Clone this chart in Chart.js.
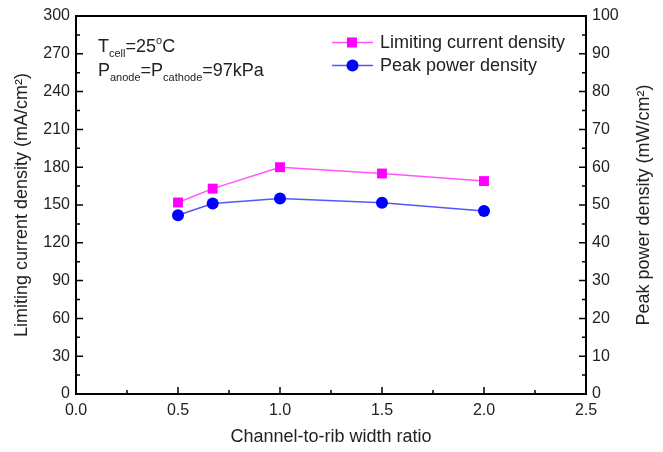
<!DOCTYPE html>
<html>
<head>
<meta charset="utf-8">
<script src="https://cdn.jsdelivr.net/npm/chart.js@4.4.1/dist/chart.umd.min.js"></script>
<style>
  html, body { margin: 0; padding: 0; background: #ffffff; }
  #wrap { width: 663px; height: 452px; }
</style>
</head>
<body>
<div id="wrap"><canvas id="c" width="663" height="452"></canvas></div>
<script>
// ---- data ----
const ratios = [0.5, 0.67, 1.0, 1.5, 2.0];
const limitingCurrent = [152, 163, 180, 175, 169];   // mA/cm2 (left axis)
const peakPower = [47.3, 50.4, 51.7, 50.6, 48.4];    // mW/cm2 (right axis)
const xTicks = [0.0, 0.5, 1.0, 1.5, 2.0, 2.5];
const leftTicks = [0, 30, 60, 90, 120, 150, 180, 210, 240, 270, 300];
const rightTicks = [0, 10, 20, 30, 40, 50, 60, 70, 80, 90, 100];
const seriesNames = ["Limiting current density", "Peak power density"];

const FONT = "'Liberation Sans', Arial, Helvetica, sans-serif";
const PINK = '#ff00ff', PINK_LINE = '#ff55ff';
const BLUE = '#0000ff', BLUE_LINE = '#5555ff';

const framePlugin = {
  id: 'frame',
  afterDraw(chart) {
    const ctx = chart.ctx;
    const a = chart.chartArea;
    const sx = chart.scales.x, sy = chart.scales.y, sy2 = chart.scales.y2;
    ctx.save();
    ctx.strokeStyle = '#000';
    ctx.lineWidth = 2;
    ctx.strokeRect(a.left, a.top, a.right - a.left, a.bottom - a.top);
    ctx.lineWidth = 1.5;
    ctx.beginPath();
    // x ticks (inward, bottom)
    for (let i = 0; i < xTicks.length; i++) {
      const px = sx.getPixelForValue(xTicks[i]);
      ctx.moveTo(px, a.bottom); ctx.lineTo(px, a.bottom - 7);
      if (i < xTicks.length - 1) {
        const pm = sx.getPixelForValue((xTicks[i] + xTicks[i + 1]) / 2);
        ctx.moveTo(pm, a.bottom); ctx.lineTo(pm, a.bottom - 4);
      }
    }
    // left ticks
    for (let i = 0; i < leftTicks.length; i++) {
      const py = sy.getPixelForValue(leftTicks[i]);
      ctx.moveTo(a.left, py); ctx.lineTo(a.left + 7, py);
      if (i < leftTicks.length - 1) {
        const pm = sy.getPixelForValue((leftTicks[i] + leftTicks[i + 1]) / 2);
        ctx.moveTo(a.left, pm); ctx.lineTo(a.left + 4, pm);
      }
    }
    // right ticks
    for (let i = 0; i < rightTicks.length; i++) {
      const py = sy2.getPixelForValue(rightTicks[i]);
      ctx.moveTo(a.right, py); ctx.lineTo(a.right - 7, py);
      if (i < rightTicks.length - 1) {
        const pm = sy2.getPixelForValue((rightTicks[i] + rightTicks[i + 1]) / 2);
        ctx.moveTo(a.right, pm); ctx.lineTo(a.right - 4, pm);
      }
    }
    ctx.stroke();

    // axis titles
    ctx.fillStyle = '#222';
    ctx.font = '18px ' + FONT;
    ctx.textAlign = 'center';
    ctx.textBaseline = 'middle';
    ctx.fillText('Channel-to-rib width ratio', (a.left + a.right) / 2, 437);
    const cy = (a.top + a.bottom) / 2;
    ctx.save();
    ctx.translate(22, cy); ctx.rotate(-Math.PI / 2);
    ctx.fillText('Limiting current density (mA/cm\u00B2)', 0, 0);
    ctx.restore();
    ctx.save();
    ctx.translate(644, cy); ctx.rotate(-Math.PI / 2);
    ctx.fillText('Peak power density (mW/cm\u00B2)', 0, 0);
    ctx.restore();

    // annotation
    function rich(x, y, segs) {
      ctx.textAlign = 'left';
      ctx.textBaseline = 'alphabetic';
      let cx = x;
      for (const s of segs) {
        ctx.font = s.size + 'px ' + FONT;
        ctx.fillText(s.t, cx, y + (s.dy || 0));
        cx += ctx.measureText(s.t).width;
      }
    }
    rich(98, 52, [
      {t: 'T', size: 18}, {t: 'cell', size: 11, dy: 5}, {t: '=25', size: 18},
      {t: 'o', size: 11, dy: -8}, {t: 'C', size: 18}
    ]);
    rich(98, 76, [
      {t: 'P', size: 18}, {t: 'anode', size: 11, dy: 5}, {t: '=P', size: 18},
      {t: 'cathode', size: 11, dy: 5}, {t: '=97kPa', size: 18}
    ]);

    // legend
    const rows = [
      {y: 42.5, line: PINK_LINE, fill: PINK, shape: 'rect', text: seriesNames[0]},
      {y: 65.5, line: BLUE_LINE, fill: BLUE, shape: 'circle', text: seriesNames[1]}
    ];
    ctx.font = '18px ' + FONT;
    for (const r of rows) {
      ctx.strokeStyle = r.line; ctx.lineWidth = 1.5;
      ctx.beginPath(); ctx.moveTo(332, r.y); ctx.lineTo(373, r.y); ctx.stroke();
      ctx.fillStyle = r.fill;
      if (r.shape === 'rect') { ctx.fillRect(352 - 5, r.y - 5, 10, 10); }
      else { ctx.beginPath(); ctx.arc(352.5, r.y, 6, 0, Math.PI * 2); ctx.fill(); }
      ctx.fillStyle = '#222';
      ctx.textAlign = 'left'; ctx.textBaseline = 'middle';
      ctx.fillText(r.text, 380, r.y + 1);
    }
    ctx.restore();
  }
};

new Chart(document.getElementById('c'), {
  type: 'scatter',
  data: {
    datasets: [
      {
        label: seriesNames[0],
        data: ratios.map((x, i) => ({x: x, y: limitingCurrent[i]})),
        yAxisID: 'y',
        showLine: true,
        borderColor: PINK_LINE,
        borderWidth: 1.5,
        backgroundColor: PINK,
        pointStyle: 'rect',
        pointRadius: 7,
        pointBorderWidth: 0,
        pointBackgroundColor: PINK,
        tension: 0
      },
      {
        label: seriesNames[1],
        data: ratios.map((x, i) => ({x: x, y: peakPower[i]})),
        yAxisID: 'y2',
        showLine: true,
        borderColor: BLUE_LINE,
        borderWidth: 1.5,
        backgroundColor: BLUE,
        pointStyle: 'circle',
        pointRadius: 6,
        pointBorderWidth: 0,
        pointBackgroundColor: BLUE,
        tension: 0
      }
    ]
  },
  options: {
    responsive: false,
    animation: false,
    layout: {padding: {top: 16, left: 0, right: 0, bottom: 0}},
    plugins: {legend: {display: false}, tooltip: {enabled: false}},
    scales: {
      x: {
        type: 'linear', min: 0, max: 2.5,
        grid: {display: false, drawTicks: false},
        border: {display: false},
        afterFit(s) { s.height = 58; },
        afterBuildTicks(s) { s.ticks = xTicks.map(v => ({value: v})); },
        ticks: {padding: 7, color: '#222', font: {family: FONT, size: 16},
                callback: v => Number(v).toFixed(1), maxRotation: 0, autoSkip: false}
      },
      y: {
        type: 'linear', position: 'left', min: 0, max: 300,
        grid: {display: false, drawTicks: false},
        border: {display: false},
        afterFit(s) { s.width = 76; },
        afterBuildTicks(s) { s.ticks = leftTicks.map(v => ({value: v})); },
        ticks: {padding: 6, color: '#222', font: {family: FONT, size: 16}, autoSkip: false}
      },
      y2: {
        type: 'linear', position: 'right', min: 0, max: 100,
        grid: {display: false, drawTicks: false},
        border: {display: false},
        afterFit(s) { s.width = 77; },
        afterBuildTicks(s) { s.ticks = rightTicks.map(v => ({value: v})); },
        ticks: {padding: 6, color: '#222', font: {family: FONT, size: 16}, autoSkip: false}
      }
    }
  },
  plugins: [framePlugin]
});
</script>
</body>
</html>
